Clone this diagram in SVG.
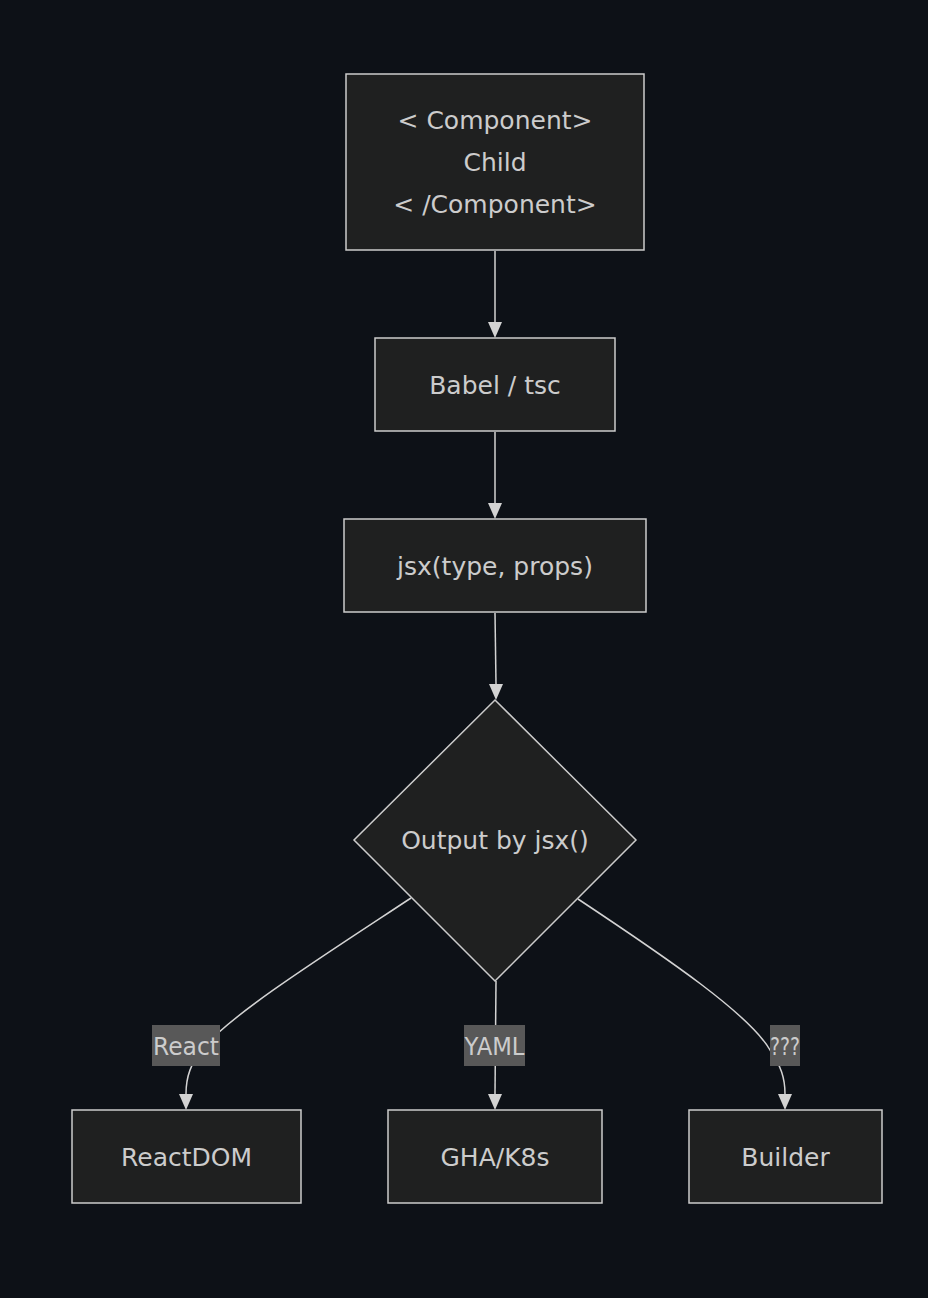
<svg xmlns="http://www.w3.org/2000/svg" width="928" height="1298" viewBox="0 0 928 1298">
<defs>
<style>
.node rect, .node polygon { fill: #1f2020; stroke: #cccccc; stroke-width: 1.5; }
.t { font-family: "DejaVu Sans", "Open Sans", sans-serif; font-size: 25px; fill: #cccccc; text-anchor: middle; dominant-baseline: central; }
.edge { fill: none; stroke: #d3d3d3; stroke-width: 1.5; }
.ah { fill: #d3d3d3; }
.lbl rect { fill: #585858; }
.lt { font-family: "DejaVu Sans", "Open Sans", sans-serif; font-size: 25px; fill: #cccccc; text-anchor: middle; dominant-baseline: central; }
</style>
</defs>
<rect width="928" height="1298" fill="#0d1117"/>
<g id="connectors">
<line class="edge" x1="495" y1="251" x2="495" y2="322"/>
<path class="ah" d="M488,322 L502,322 L495,338 Z"/>
<line class="edge" x1="495" y1="432" x2="495" y2="503"/>
<path class="ah" d="M488,503 L502,503 L495,519 Z"/>
<line class="edge" x1="495" y1="613" x2="496" y2="684"/>
<path class="ah" d="M489,684 L503,684 L496,700 Z"/>
<path class="edge" d="M411,898 C320,958 235,1012 205,1046 C190,1063 186,1078 186,1094"/>
<path class="ah" d="M179,1094 L193,1094 L186,1110 Z"/>
<line class="edge" x1="496" y1="981" x2="495" y2="1094"/>
<path class="ah" d="M488,1094 L502,1094 L495,1110 Z"/>
<path class="edge" d="M578,899 C670,960 750,1015 770,1050 C781,1066 785,1078 785,1094"/>
<path class="ah" d="M778,1094 L792,1094 L785,1110 Z"/>
</g>
<g id="n-component" class="node">
<rect x="346" y="74" width="298" height="176"/>
<text class="t" x="495" y="120">&lt; Component&gt;</text>
<text class="t" x="495" y="162">Child</text>
<text class="t" x="495" y="204">&lt; /Component&gt;</text>
</g>
<g id="n-babel" class="node">
<rect x="375" y="338" width="240" height="93"/>
<text class="t" x="495" y="385">Babel / tsc</text>
</g>
<g id="n-jsx" class="node">
<rect x="344" y="519" width="302" height="93"/>
<text class="t" x="495" y="566">jsx(type, props)</text>
</g>
<g id="n-output" class="node">
<polygon points="495,700 636,840 495,981 354,840"/>
<text class="t" x="495" y="840">Output by jsx()</text>
</g>
<g id="n-reactdom" class="node">
<rect x="72" y="1110" width="229" height="93"/>
<text class="t" x="186.5" y="1157">ReactDOM</text>
</g>
<g id="n-gha" class="node">
<rect x="388" y="1110" width="214" height="93"/>
<text class="t" x="495" y="1157">GHA/K8s</text>
</g>
<g id="n-builder" class="node">
<rect x="689" y="1110" width="193" height="93"/>
<text class="t" x="785.5" y="1157">Builder</text>
</g>
<g id="edge-labels">
<g class="lbl"><rect x="152" y="1025" width="68" height="41"/><text class="lt" x="186" y="1046" textLength="66" lengthAdjust="spacingAndGlyphs">React</text></g>
<g class="lbl"><rect x="464" y="1025" width="61" height="41"/><text class="lt" x="494.5" y="1046" textLength="60" lengthAdjust="spacingAndGlyphs">YAML</text></g>
<g class="lbl"><rect x="770" y="1025" width="30" height="41"/><text class="lt" x="785" y="1046" textLength="30" lengthAdjust="spacingAndGlyphs">???</text></g>
</g>
</svg>
